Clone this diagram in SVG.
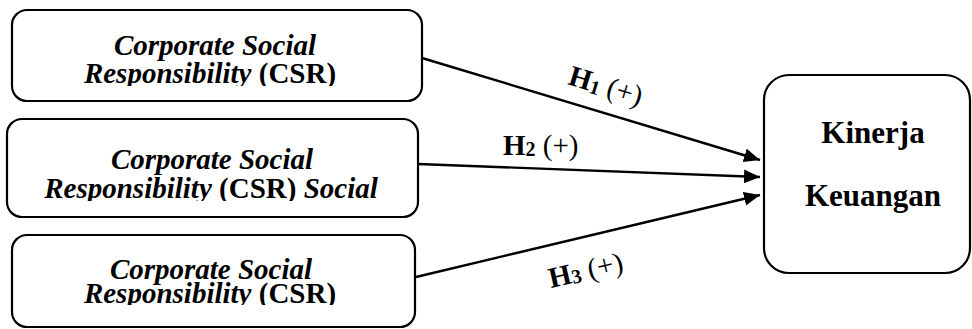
<svg xmlns="http://www.w3.org/2000/svg" width="972" height="329" viewBox="0 0 972 329">
<style>
.box{fill:#fff;stroke:#000;stroke-width:2.2}
.conn{stroke:#000;stroke-width:2.4;fill:none}
</style>
<defs>
<marker id="ah" markerUnits="userSpaceOnUse" markerWidth="18" markerHeight="16" refX="16" refY="7" orient="auto">
<path d="M0,0 L16,7 L0,14 Z" fill="#000"/>
</marker>
<clipPath id="c1"><rect x="0" y="0" width="430" height="86"/></clipPath>
<clipPath id="c2"><rect x="0" y="110" width="430" height="91"/></clipPath>
<clipPath id="c3"><rect x="0" y="228" width="430" height="77"/></clipPath>
</defs>
<g font-family="Liberation Serif, Times New Roman, serif" font-size="29" font-weight="bold" fill="#000">
<g id="node-csr1">
<rect class="box" x="12" y="10" width="410" height="91" rx="15"/>
<g clip-path="url(#c1)">
<text font-style="italic" x="215" y="55" text-anchor="middle">Corporate Social</text>
<text x="210" y="83" text-anchor="middle"><tspan font-style="italic">Responsibility</tspan> (CSR)</text>
</g>
</g>
<g id="node-csr2">
<rect class="box" x="7" y="119" width="411" height="98" rx="15"/>
<g clip-path="url(#c2)">
<text font-style="italic" x="212" y="169" text-anchor="middle">Corporate Social</text>
<text x="211" y="198" text-anchor="middle"><tspan font-style="italic">Responsibility</tspan> (CSR) <tspan font-style="italic">Social</tspan></text>
</g>
</g>
<g id="node-csr3">
<rect class="box" x="12" y="235" width="403" height="92" rx="15"/>
<g clip-path="url(#c3)">
<text font-style="italic" x="211" y="279" text-anchor="middle">Corporate Social</text>
<text x="210" y="303" text-anchor="middle"><tspan font-style="italic">Responsibility</tspan> (CSR)</text>
</g>
</g>
<g id="node-kinerja">
<rect class="box" x="764" y="75" width="206" height="198" rx="25"/>
<text x="873" y="143" text-anchor="middle" font-size="31">Kinerja</text>
<text x="873" y="206" text-anchor="middle" font-size="31">Keuangan</text>
</g>
<g id="connectors">
<line class="conn" x1="422" y1="58" x2="760" y2="160" marker-end="url(#ah)"/>
<line class="conn" x1="418" y1="164" x2="760" y2="177" marker-end="url(#ah)"/>
<line class="conn" x1="416" y1="277" x2="760" y2="195" marker-end="url(#ah)"/>
<text transform="translate(567,84) rotate(17)">H<tspan font-size="20" dy="2">1</tspan><tspan font-weight="normal" dy="-2"> (+)</tspan></text>
<text x="503" y="155">H<tspan font-size="20" dy="1">2</tspan><tspan font-weight="normal" dy="-1"> (+)</tspan></text>
<text transform="translate(551,288) rotate(-13)">H<tspan font-size="20" dy="1">3</tspan><tspan font-weight="normal" dy="-1"> (+)</tspan></text>
</g>
</g>
</svg>
